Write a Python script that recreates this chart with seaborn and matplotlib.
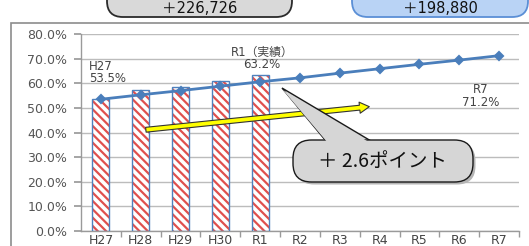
import numpy as np
import pandas as pd
import seaborn as sns
import matplotlib.pyplot as plt
import matplotlib.patches as mpatches
from matplotlib.ticker import PercentFormatter

years = ["H27", "H28", "H29", "H30", "R1", "R2", "R3", "R4", "R5", "R6", "R7"]
actual_years = ["H27", "H28", "H29", "H30", "R1"]
actual_rate = [0.535, 0.573, 0.586, 0.611, 0.632]
target_rate = [0.535, 0.553, 0.570, 0.588, 0.606, 0.622, 0.641, 0.659, 0.677, 0.694, 0.712]
top_left_text = "＋226,726"
top_right_text = "＋198,880"
gain_text = "＋ 2.6ポイント"

sns.set_theme(style="white")
plt.rcParams["font.family"] = ["DejaVu Sans", "Noto Sans CJK JP"]
plt.rcParams["hatch.linewidth"] = 1.6

W, H = 529, 246
fig = plt.figure(figsize=(W / 100, H / 100), dpi=100)
ax = fig.add_axes([81 / W, 1 - 231 / H, (519 - 81) / W, (231 - 34) / H])


def px(x, y):
    # pixel position -> figure fraction
    return x / W, 1 - y / H


# outer frame of the slide panel
fig.patches.append(mpatches.Rectangle(px(11, 300), 1, (300 - 23) / H,
                                      transform=fig.transFigure, fill=False,
                                      edgecolor="#8c8c8c", lw=1.2, zorder=0))

# top summary boxes (cut off by the image edge)
for (x0, x1), fc, ec, txt in [((107, 292), "#d9d9d9", "#2b2b2b", top_left_text),
                               ((352, 528), "#b9d3f5", "#5b8fd6", top_right_text)]:
    fx, fy = px(x0, 17)
    fig.patches.append(mpatches.FancyBboxPatch(
        (fx, fy), (x1 - x0) / W, 40 / H, boxstyle="round,pad=0,rounding_size=0.03",
        transform=fig.transFigure, facecolor=fc, edgecolor=ec, lw=1.3,
        mutation_aspect=W / H, zorder=1))
    fig.text(*px((x0 + x1) / 2, 8.5), txt, ha="center", va="center",
             fontsize=10.5, color="#111111", zorder=2)

df_bar = pd.DataFrame({"year": actual_years, "rate": actual_rate})
df_line = pd.DataFrame({"year": years, "rate": target_rate})

# hatched bars: red stripes, then blue outline on top
sns.barplot(data=df_bar, x="year", y="rate", order=years, width=0.43,
            color="white", edgecolor="#e0504e", linewidth=0, hatch="\\\\\\\\",
            ax=ax, zorder=2)
sns.barplot(data=df_bar, x="year", y="rate", order=years, width=0.43,
            fill=False, edgecolor="#4f81bd", linewidth=1.0, ax=ax, zorder=3)
sns.pointplot(data=df_line, x="year", y="rate", order=years, color="#4a7ebb",
              markers="D", markersize=4.5, linewidth=2, ax=ax, zorder=4)

ax.set_xlim(-0.5, len(years) - 0.5)
ax.set_ylim(0, 0.8)
ax.set_yticks(np.arange(0, 0.81, 0.1))
ax.yaxis.set_major_formatter(PercentFormatter(1.0, decimals=1))
ax.set_xlabel("")
ax.set_ylabel("")
ax.grid(axis="y", color="#bcbcbc", lw=1)
ax.set_axisbelow(True)
for s in ["top", "right"]:
    ax.spines[s].set_visible(False)
for s in ["left", "bottom"]:
    ax.spines[s].set_color("#9a9a9a")
    ax.spines[s].set_linewidth(1)
ax.set_xticks(np.arange(len(years)))
ax.set_xticklabels(years)
ax.set_xticks(np.arange(len(years)) + 0.5, minor=True)
ax.tick_params(axis="x", which="major", length=0, pad=2, labelsize=9, labelcolor="#444444")
ax.tick_params(axis="x", which="minor", length=4, color="#9a9a9a", direction="out", bottom=True)
ax.tick_params(axis="y", length=5, color="#9a9a9a", direction="out", left=True,
               pad=5, labelsize=9, labelcolor="#555555")

# value labels
lbl = dict(fontsize=8.5, color="#444444", linespacing=0.95)
ax.text(-0.3, 0.592, "H27\n" + f"{actual_rate[0] * 100:.1f}%", ha="left", va="bottom", **lbl)
ax.text(4.05, 0.65, "R1（実績）\n" + f"{actual_rate[-1] * 100:.1f}%", ha="center", va="bottom", **lbl)
ax.text(9.55, 0.497, "R7\n" + f"{target_rate[-1] * 100:.1f}%", ha="center", va="bottom", **lbl)

# yellow arrow
ax.add_patch(mpatches.FancyArrowPatch(
    (1.06, 0.41), (6.81, 0.506),
    arrowstyle="simple,head_length=7,head_width=8,tail_width=3.5",
    mutation_scale=1, facecolor="#ffff00", edgecolor="#333333", lw=0.8, zorder=6))

# callout with pointer
tip = px(282, 88)
base_l, base_r = px(326, 141), px(371, 141)
shadow = (2.5 / W, -2.5 / H)
wedge = [tip, base_l, base_r]
fig.patches.append(mpatches.Polygon([(x + shadow[0], y + shadow[1]) for x, y in wedge],
                                    transform=fig.transFigure, facecolor="#bdbdbd",
                                    edgecolor="none", zorder=7))
fig.patches.append(mpatches.Polygon(wedge, transform=fig.transFigure, facecolor="#d6d6d6",
                                    edgecolor="#1a1a1a", lw=1.0, zorder=8))
bx, by = px(293, 182)
for off, fc, ec, z in [(shadow, "#b5b5b5", "none", 7), ((0, 0), "#d6d6d6", "#1a1a1a", 8)]:
    fig.patches.append(mpatches.FancyBboxPatch(
        (bx + off[0], by + off[1]), 180 / W, 42 / H,
        boxstyle="round,pad=0,rounding_size=0.035", mutation_aspect=W / H,
        transform=fig.transFigure, facecolor=fc, edgecolor=ec, lw=1.0, zorder=z))
inner = [px(283, 90), px(327.5, 142.5), px(369.5, 142.5)]
fig.patches.append(mpatches.Polygon(inner, transform=fig.transFigure, facecolor="#d6d6d6",
                                    edgecolor="none", zorder=9))
fig.text(*px(383, 161), gain_text, ha="center", va="center", fontsize=14,
         color="#111111", family=["Noto Sans CJK JP", "DejaVu Sans"], zorder=10)

fig.savefig("out.png", dpi=100)
